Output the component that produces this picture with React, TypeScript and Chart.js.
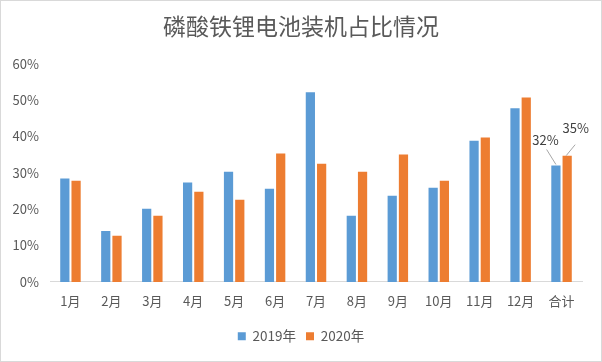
import React, { useEffect, useRef } from "react";
import { Chart, registerables } from "chart.js";

Chart.register(...registerables);

const categories = ["1月", "2月", "3月", "4月", "5月", "6月", "7月", "8月", "9月", "10月", "11月", "12月", "合计"];
const series2019 = [28.4, 14.0, 20.1, 27.3, 30.3, 25.6, 52.1, 18.2, 23.7, 25.9, 38.8, 47.7, 32.0];
const series2020 = [27.8, 12.7, 18.2, 24.8, 22.6, 35.3, 32.5, 30.3, 35.0, 27.8, 39.7, 50.7, 34.7];
const seriesNames = ["2019年", "2020年"];
const totalLabels = ["32%", "35%"];
const yTicks = [0, 10, 20, 30, 40, 50, 60];

const FONT = "'Noto Sans CJK SC', 'Noto Sans', sans-serif";
const TEXT = "#595959";

const totalLabelPlugin = {
  id: "totalLabels",
  afterDatasetsDraw(chart: any) {
    const ctx = chart.ctx;
    const idx = categories.length - 1;
    const specs = [
      { lx: -10.5, ly: -25.5, x1: -9.3, y1: -16, x2: 0, y2: -1 },
      { lx: 8.5, ly: -27.5, x1: 8, y1: -11, x2: -1, y2: 0 },
    ];
    ctx.save();
    [0, 1].forEach((d) => {
      const el = chart.getDatasetMeta(d).data[idx];
      if (!el) return;
      const s = specs[d];
      ctx.strokeStyle = "#A6A6A6";
      ctx.lineWidth = 1;
      ctx.beginPath();
      ctx.moveTo(el.x + s.x1, el.y + s.y1);
      ctx.lineTo(el.x + s.x2, el.y + s.y2);
      ctx.stroke();
      ctx.fillStyle = "#404040";
      ctx.font = `13px ${FONT}`;
      ctx.textAlign = "center";
      ctx.textBaseline = "middle";
      ctx.fillText(totalLabels[d], el.x + s.lx, el.y + s.ly);
    });
    ctx.restore();
  },
};

export default function App() {
  const ref = useRef<HTMLCanvasElement>(null);
  useEffect(() => {
    document.body.style.margin = "0";
    const chart = new Chart(ref.current!, {
      type: "bar",
      data: {
        labels: categories,
        datasets: [
          { label: seriesNames[0], data: series2019, backgroundColor: "#5B9BD5", categoryPercentage: 0.55, barPercentage: 0.82 },
          { label: seriesNames[1], data: series2020, backgroundColor: "#ED7D31", categoryPercentage: 0.55, barPercentage: 0.82 },
        ],
      },
      options: {
        responsive: false,
        animation: false,
        layout: { padding: { left: 0, right: 0, top: 0, bottom: 8 } },
        plugins: {
          title: {
            display: true,
            text: "磷酸铁锂电池装机占比情况",
            color: TEXT,
            font: { family: FONT, size: 23, weight: "normal" },
            padding: { top: 11, bottom: 24 },
          },
          legend: {
            position: "bottom",
            labels: {
              color: TEXT,
              font: { family: FONT, size: 13.5 },
              boxWidth: 8,
              boxHeight: 8,
              padding: 10,
            },
          },
          tooltip: { enabled: false },
        },
        scales: {
          x: {
            grid: { display: false },
            border: { color: "#D9D9D9", width: 1 },
            ticks: { color: TEXT, font: { family: FONT, size: 13 }, padding: 3, maxRotation: 0 },
            afterFit: (s: any) => { s.height = s.height + 8; },
          },
          y: {
            min: 0,
            max: 60,
            afterFit: (s: any) => { s.width = 49; },
            afterBuildTicks: (s: any) => { s.ticks = yTicks.map((v) => ({ value: v })); },
            grid: { display: false, drawTicks: false },
            border: { display: false },
            ticks: { color: TEXT, font: { family: FONT, size: 13 }, padding: 11, callback: (v: any) => `${v}%` },
          },
          yRight: {
            position: "right",
            min: 0,
            max: 60,
            afterFit: (s: any) => { s.width = 19; },
            grid: { display: false },
            border: { display: false },
            ticks: { display: false },
          },
        },
      },
      plugins: [totalLabelPlugin],
    });
    return () => chart.destroy();
  }, []);
  return (
    <div style={{ width: 602, height: 362, position: "relative", boxSizing: "border-box", border: "1px solid #D9D9D9", background: "#fff" }}>
      <canvas ref={ref} width={600} height={360} style={{ display: "block" }} />
    </div>
  );
}
